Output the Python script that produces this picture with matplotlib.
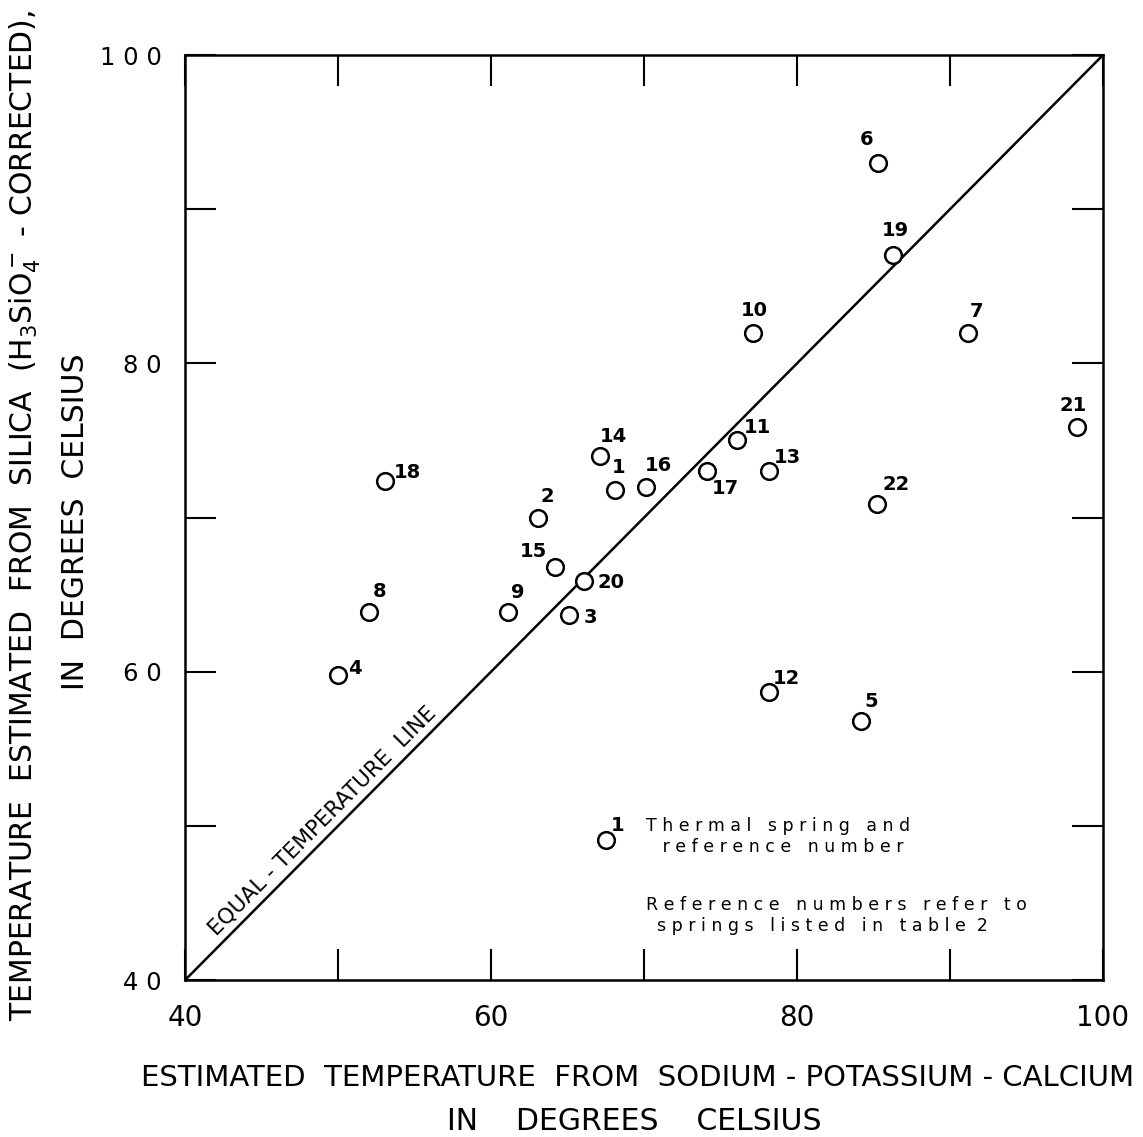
"""Silica vs Na-K-Ca geothermometer temperatures for thermal springs."""

import matplotlib
matplotlib.use("Agg")
import matplotlib.pyplot as plt

# spring reference numbers and estimated temperatures (deg C)
spring_ids = ["6", "19", "10", "7", "21", "11", "13", "17", "16", "1", "14",
              "18", "2", "22", "15", "20", "9", "3", "8", "4", "12", "5"]
t_nakca = [85.3, 86.3, 77.1, 91.2, 98.3, 76.1, 78.2, 74.1, 70.1, 68.1, 67.1,
           53.1, 63.1, 85.2, 64.2, 66.1, 61.1, 65.1, 52.0, 50.0, 78.2, 84.2]
t_silica = [93.0, 87.0, 82.0, 82.0, 75.9, 75.0, 73.0, 73.0, 72.0, 71.8, 74.0,
            72.4, 70.0, 70.9, 66.8, 65.9, 63.9, 63.7, 63.9, 59.8, 58.7, 56.8]

# label offsets in pixels from each marker (layout only)
label_offsets = {
    "6": (-12, 23), "19": (2, 25), "10": (2, 22), "7": (8, 21), "21": (-4, 21),
    "11": (20, 13), "13": (18, 14), "17": (19, -17), "16": (13, 21),
    "1": (4, 22), "14": (14, 19), "18": (22, 8), "2": (9, 21), "22": (20, 19),
    "15": (-22, 15), "20": (27, -2), "9": (10, 19), "3": (21, -3),
    "8": (11, 20), "4": (17, 6), "12": (17, 13), "5": (10, 20),
}

legend_point = (67.5, 49.1)

plt.rcParams["font.family"] = ["DejaVu Sans"]

fig = plt.figure(figsize=(11.43, 11.37), dpi=100)
ax = fig.add_axes([0.1619, 0.138, 0.8031, 0.8136])

ax.set_xlim(40, 100)
ax.set_ylim(40, 100)

# equal temperature line
ax.plot([40, 100], [40, 100], color="black", lw=1.8)
ax.text(48.95, 50.3, "EQUAL - TEMPERATURE  LINE",
        rotation=45.2, rotation_mode="anchor", ha="center", va="center",
        fontsize=15.5)

ax.plot(t_nakca, t_silica, "o", ms=12, mfc="white", mec="black", mew=1.8)
for sid, x, y in zip(spring_ids, t_nakca, t_silica):
    dx, dy = label_offsets[sid]
    ax.annotate(sid, (x, y), xytext=(dx, dy), textcoords="offset pixels",
                ha="center", va="center", fontsize=14, fontweight="bold")

# explanation
ax.plot(*legend_point, "o", ms=12, mfc="white", mec="black", mew=1.8)
ax.annotate("1", legend_point, xytext=(12, 14), textcoords="offset pixels",
            ha="center", va="center", fontsize=14, fontweight="bold")
ax.text(70.1, 49.3, "T h e r m a l   s p r i n g   a n d\n"
        "   r e f e r e n c e   n u m b e r",
        fontsize=12.5, ha="left", va="center", linespacing=1.25)
ax.text(70.1, 44.2, "R e f e r e n c e   n u m b e r s   r e f e r   t o\n"
        "  s p r i n g s   l i s t e d   i n   t a b l e  2",
        fontsize=12.5, ha="left", va="center", linespacing=1.25)

ticks = [40, 50, 60, 70, 80, 90, 100]
ax.set_xticks(ticks)
ax.set_yticks(ticks)
ax.set_xticklabels(["40", "", "60", "", "80", "", "100"])
ax.set_yticklabels(["4 0", "", "6 0", "", "8 0", "", "1 0 0"])
ax.tick_params(direction="in", length=22, width=1.5, top=True, right=True,
               labelsize=17.5)
ax.tick_params(axis="y", pad=17)
ax.tick_params(axis="x", pad=17, labelsize=20)
for s in ax.spines.values():
    s.set_linewidth(1.8)

fig.text(0.022, 0.547,
         "TEMPERATURE  ESTIMATED  FROM  SILICA  (H$_3$SiO$_4^-$ - CORRECTED),",
         rotation=90, ha="center", va="center", fontsize=21.5)
fig.text(0.066, 0.541, "IN  DEGREES  CELSIUS", rotation=90,
         ha="center", va="center", fontsize=21.5)
fig.text(0.558, 0.052,
         "ESTIMATED  TEMPERATURE  FROM  SODIUM - POTASSIUM - CALCIUM",
         ha="center", va="center", fontsize=21)
fig.text(0.555, 0.014, "IN    DEGREES    CELSIUS", ha="center",
         va="center", fontsize=21.5)

fig.savefig("out.png", dpi=100, facecolor="white")
